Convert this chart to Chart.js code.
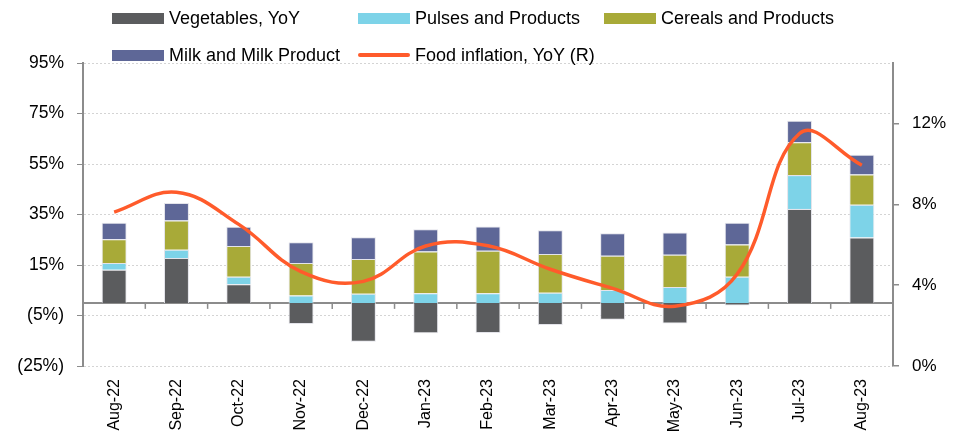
<!DOCTYPE html>
<html>
<head>
<meta charset="utf-8">
<script src="https://cdn.jsdelivr.net/npm/chart.js@4"></script>
<style>
  body { margin: 0; background: #fff; }
  #wrap { position: relative; width: 966px; height: 432px; font-family: "Liberation Sans", Arial, sans-serif; }
  .lg { position: absolute; font-size: 18px; color: #000; white-space: nowrap; line-height: 20px; }
  .lg i { position: absolute; left: 0; }
  .lg span { position: absolute; left: 57px; top: 0; }
</style>
</head>
<body>
<div id="wrap">
  <canvas id="chart" width="966" height="432"></canvas>
  <div id="legend"></div>
</div>
<script>
const months = ["Aug-22", "Sep-22", "Oct-22", "Nov-22", "Dec-22", "Jan-23", "Feb-23",
    "Mar-23", "Apr-23", "May-23", "Jun-23", "Jul-23", "Aug-23"];

// contributions, % (left axis)
const vegetables = [13.1, 17.8, 7.4, -8.4, -15.4, -12.0, -11.9, -8.8, -6.7, -8.2, -1.0, 37.2, 25.9];
const pulses = [2.7, 3.2, 2.9, 2.9, 3.6, 3.8, 3.8, 4.0, 5.1, 6.3, 10.3, 13.4, 13.0];
const cereals = [9.4, 11.6, 12.2, 12.9, 13.8, 16.5, 16.8, 15.4, 13.6, 12.8, 12.8, 13.0, 11.9];
const milk = [6.5, 7.0, 7.6, 8.2, 8.6, 8.9, 9.6, 9.4, 8.9, 8.8, 8.6, 8.5, 7.9];

// food inflation, % (right axis)
const foodInflation = [7.62, 8.60, 7.01, 4.67, 4.19, 5.94, 5.95, 4.79, 3.84, 2.96, 4.55, 11.51, 9.94];

const leftTicks = [-25, -5, 15, 35, 55, 75, 95];
const rightTicks = [0, 4, 8, 12];

const pct = v => v < 0 ? "(" + Math.abs(v) + "%)" : v + "%";
const axisGray = "#8c8c8c";
const family = "'Liberation Sans', Arial, sans-serif";

function bar(label, data, color) {
    return {
        type: "bar", label: label, data: data, backgroundColor: color,
        borderColor: "rgba(225,225,232,0.9)", borderWidth: 1,
        yAxisID: "y", stack: "s", order: 1,
    };
}

// zero line and category tick marks hanging from it
const zeroAxis = {
    id: "zeroAxis",
    beforeDatasetsDraw(chart) {
        const { ctx, chartArea, scales } = chart;
        const y0 = scales.y.getPixelForValue(0);
        ctx.save();
        ctx.strokeStyle = axisGray;
        ctx.lineWidth = 2;
        ctx.beginPath();
        ctx.moveTo(chartArea.left, y0);
        ctx.lineTo(chartArea.right, y0);
        ctx.stroke();
        ctx.lineWidth = 1.5;
        for (let i = 0; i < months.length - 1; i++) {
            const x = (scales.x.getPixelForValue(i) + scales.x.getPixelForValue(i + 1)) / 2;
            ctx.beginPath();
            ctx.moveTo(x, y0);
            ctx.lineTo(x, y0 + 6);
            ctx.stroke();
        }
        ctx.restore();
    },
};

const chart = new Chart(document.getElementById("chart"), {
    data: {
        labels: months,
        datasets: [
            {
                type: "line", label: "Food inflation, YoY (R)", data: foodInflation,
                borderColor: "#ff5b2b", borderWidth: 3.5, pointRadius: 0,
                tension: 0.4, yAxisID: "y1", order: 0,
            },
            bar("Vegetables, YoY", vegetables, "#5b5c5e"),
            bar("Pulses and Products", pulses, "#7dd3e8"),
            bar("Cereals and Products", cereals, "#a8aa38"),
            bar("Milk and Milk Product", milk, "#5e6797"),
        ],
    },
    options: {
        responsive: false,
        animation: false,
        layout: { padding: { top: 63, left: 0, right: 0, bottom: 0 } },
        datasets: { bar: { categoryPercentage: 0.4, barPercentage: 1 } },
        plugins: { legend: { display: false }, tooltip: { enabled: false } },
        scales: {
            x: {
                stacked: true,
                grid: { display: false, drawTicks: false },
                border: { display: false },
                ticks: { color: "#000", font: { family: family, size: 16 }, minRotation: 90, maxRotation: 90, padding: 13, autoSkip: false },
                afterFit(s) { s.height = 66; },
            },
            y: {
                stacked: true, position: "left", min: -25, max: 95,
                afterBuildTicks(s) { s.ticks = leftTicks.map(v => ({ value: v })); },
                afterFit(s) { s.width = 83; },
                grid: { color: "#d4d4d4", lineWidth: 1, tickColor: axisGray, tickLength: 6 },
                border: { color: axisGray, width: 2, dash: [2, 2] },
                ticks: { color: "#000", font: { family: family, size: 17.5 }, padding: 13, callback: pct },
            },
            y1: {
                position: "right", min: 0, max: 15,
                afterBuildTicks(s) { s.ticks = rightTicks.map(v => ({ value: v })); },
                afterFit(s) { s.width = 73; },
                grid: { drawOnChartArea: false, tickColor: axisGray, tickLength: 6, lineWidth: 1.5 },
                border: { color: axisGray, width: 2 },
                ticks: { color: "#000", font: { family: family, size: 17 }, padding: 13, callback: v => v + "%" },
            },
        },
    },
    plugins: [zeroAxis],
});

// legend laid out in Excel-like columns
const legendSpots = [
    [1, 112, 8], [2, 358, 8], [3, 604, 8],
    [4, 112, 45], [0, 358, 45],
];
const legendEl = document.getElementById("legend");
legendSpots.forEach(([idx, left, top]) => {
    const ds = chart.data.datasets[idx];
    const item = document.createElement("div");
    item.className = "lg";
    item.style.left = left + "px";
    item.style.top = top + "px";
    const mark = document.createElement("i");
    if (ds.type === "line") {
        mark.style.cssText = "top:8px;width:52px;height:4px;border-radius:2px;background:" + ds.borderColor;
    } else {
        mark.style.cssText = "top:5px;width:52px;height:11px;background:" + ds.backgroundColor;
    }
    const text = document.createElement("span");
    text.textContent = ds.label;
    item.appendChild(mark);
    item.appendChild(text);
    legendEl.appendChild(item);
});
</script>
</body>
</html>
